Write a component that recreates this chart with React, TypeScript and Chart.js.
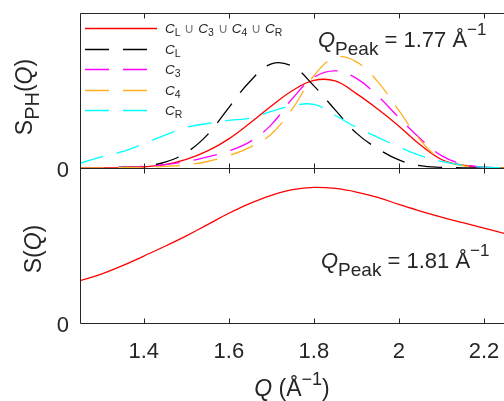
import React, { useEffect, useRef } from "react";
import { Chart, registerables } from "chart.js";

Chart.register(...registerables);

// ---------- data ----------
const Q = [1.25, 1.3, 1.35, 1.4, 1.45, 1.5, 1.55, 1.6, 1.65, 1.7, 1.75, 1.8, 1.85, 1.9, 1.95, 2.0, 2.05, 2.1, 2.15, 2.2, 2.25];
const SPH_UNION = [0, 0.001, 0.003, 0.008, 0.022, 0.055, 0.11, 0.188, 0.29, 0.4, 0.5, 0.565, 0.562, 0.48, 0.38, 0.27, 0.15, 0.055, 0.018, 0.004, 0];
const SPH_CL = [0, 0.002, 0.005, 0.012, 0.038, 0.1, 0.215, 0.39, 0.56, 0.672, 0.655, 0.53, 0.375, 0.225, 0.125, 0.052, 0.015, 0.004, 0.001, 0, 0];
const SPH_C3 = [0, 0.001, 0.004, 0.01, 0.022, 0.042, 0.072, 0.11, 0.17, 0.28, 0.45, 0.585, 0.627, 0.578, 0.465, 0.325, 0.19, 0.08, 0.025, 0.005, 0];
const SPH_C4 = [0, 0.001, 0.002, 0.005, 0.01, 0.02, 0.042, 0.08, 0.135, 0.22, 0.385, 0.595, 0.712, 0.685, 0.557, 0.37, 0.18, 0.055, 0.015, 0.003, 0];
const SPH_CR = [0.03, 0.072, 0.105, 0.157, 0.212, 0.262, 0.287, 0.307, 0.322, 0.365, 0.402, 0.41, 0.34, 0.262, 0.198, 0.135, 0.08, 0.042, 0.018, 0.006, 0.001];
const SQ = [0.273, 0.316, 0.37, 0.432, 0.495, 0.562, 0.635, 0.708, 0.772, 0.824, 0.86, 0.875, 0.868, 0.845, 0.81, 0.765, 0.722, 0.683, 0.647, 0.612, 0.576];

const X_TICKS = [1.4, 1.6, 1.8, 2, 2.2];
const X_TICK_LABELS = ["1.4", "1.6", "1.8", "2", "2.2"];
const X_MIN = 1.25;
const X_MAX = 2.247;
const PEAK_TOP = "1.77";
const PEAK_BOTTOM = "1.81";

// ---------- helpers ----------
const FONT = '"Liberation Sans", Arial, Helvetica, sans-serif';
const TXT = "#262626";

type Run = { t: string; size: number; italic?: boolean; dy?: number; color?: string };

function setFont(ctx: CanvasRenderingContext2D, r: Run) {
  ctx.font = `${r.italic ? "italic " : ""}${r.size}px ${FONT}`;
}
function richWidth(ctx: CanvasRenderingContext2D, runs: Run[]) {
  let w = 0;
  for (const r of runs) {
    setFont(ctx, r);
    w += ctx.measureText(r.t).width;
  }
  return w;
}
function drawRich(ctx: CanvasRenderingContext2D, runs: Run[], x: number, y: number, align: "left" | "center" | "right") {
  const w = richWidth(ctx, runs);
  let cx = align === "left" ? x : align === "center" ? x - w / 2 : x - w;
  ctx.textAlign = "left";
  ctx.textBaseline = "alphabetic";
  for (const r of runs) {
    setFont(ctx, r);
    ctx.fillStyle = r.color || TXT;
    ctx.fillText(r.t, cx, y + (r.dy || 0));
    cx += ctx.measureText(r.t).width;
  }
}

const C = (sub: string): Run[] => [
  { t: "C", size: 13.5, italic: true },
  { t: sub, size: 10.5, dy: 3 },
];
const CUP: Run = { t: " \u222A ", size: 14, color: "#777" };

const LEGEND = [
  { color: "#ff0000", dash: [] as number[], runs: [...C("L"), CUP, ...C("3"), CUP, ...C("4"), CUP, ...C("R")] },
  { color: "#000000", dash: [24, 14], runs: C("L") },
  { color: "#ff00ff", dash: [24, 14], runs: C("3") },
  { color: "#ffb020", dash: [24, 14], runs: C("4") },
  { color: "#00ffff", dash: [24, 14], runs: C("R") },
];

const peakRuns = (v: string): Run[] => [
  { t: "Q", size: 22, italic: true },
  { t: "Peak", size: 19, dy: 8 },
  { t: " = " + v + " \u00C5", size: 22 },
  { t: "\u22121", size: 17, dy: -12 },
];

const decorPlugin = {
  id: "decor",
  afterDatasetsDraw(chart: any) {
    const ctx: CanvasRenderingContext2D = chart.ctx;
    const x = chart.scales.x;
    const yTop = chart.scales.yTop;
    const yBot = chart.scales.yBot;
    const left = chart.chartArea.left;
    const right = chart.chartArea.right;
    const top = Math.round(yTop.getPixelForValue(1)) + 0.5;
    const mid = Math.round(yTop.getPixelForValue(0)) + 0.5;
    const bot = Math.round(yBot.getPixelForValue(0)) + 0.5;
    const l = Math.round(left) + 0.5;
    ctx.save();
    ctx.strokeStyle = TXT;
    ctx.lineWidth = 1;
    ctx.setLineDash([]);
    ctx.beginPath();
    ctx.moveTo(l, top); ctx.lineTo(right + 2, top);
    ctx.moveTo(l, mid); ctx.lineTo(right + 2, mid);
    ctx.moveTo(l, bot); ctx.lineTo(right + 2, bot);
    ctx.moveTo(l, top); ctx.lineTo(l, bot);
    const tl = 5;
    for (const t of X_TICKS) {
      const px = Math.round(x.getPixelForValue(t)) + 0.5;
      ctx.moveTo(px, top); ctx.lineTo(px, top + tl);
      ctx.moveTo(px, mid - tl); ctx.lineTo(px, mid + tl);
      ctx.moveTo(px, bot); ctx.lineTo(px, bot - tl);
    }
    ctx.stroke();

    // tick labels
    X_TICKS.forEach((t, i) => {
      drawRich(ctx, [{ t: X_TICK_LABELS[i], size: 22 }], x.getPixelForValue(t), 358, "center");
    });
    drawRich(ctx, [{ t: "0", size: 22 }], 69, mid + 8, "right");
    drawRich(ctx, [{ t: "0", size: 22 }], 69, bot + 8, "right");

    // axis title
    drawRich(ctx, [
      { t: "Q", size: 23, italic: true },
      { t: " (\u00C5", size: 23 },
      { t: "\u22121", size: 18, dy: -11 },
      { t: ")", size: 23 },
    ], (left + right) / 2, 396, "center");

    // y titles
    ctx.save();
    ctx.translate(32, 97);
    ctx.rotate(-Math.PI / 2);
    drawRich(ctx, [
      { t: "S", size: 23 },
      { t: "PH", size: 20, dy: 7 },
      { t: "(", size: 23 },
      { t: "Q", size: 23, italic: true },
      { t: ")", size: 23 },
    ], 0, 0, "center");
    ctx.restore();
    ctx.save();
    ctx.translate(41, (mid + bot) / 2 + 3);
    ctx.rotate(-Math.PI / 2);
    drawRich(ctx, [
      { t: "S(", size: 23 },
      { t: "Q", size: 23, italic: true },
      { t: ")", size: 23 },
    ], 0, 0, "center");
    ctx.restore();

    // annotations
    drawRich(ctx, peakRuns(PEAK_TOP), 318, 47, "left");
    drawRich(ctx, peakRuns(PEAK_BOTTOM), 321, 268, "left");

    // legend
    const rowY = [28, 48.5, 69, 89.5, 110];
    LEGEND.forEach((e, i) => {
      const y = Math.round(rowY[i]) + 0.5;
      ctx.strokeStyle = e.color;
      ctx.lineWidth = 1.3;
      ctx.setLineDash(e.dash);
      ctx.beginPath();
      ctx.moveTo(85, y);
      ctx.lineTo(157, y);
      ctx.stroke();
      ctx.setLineDash([]);
      drawRich(ctx, e.runs, 165, y + 4, "left");
    });
    ctx.restore();
  },
};

function pts(vals: number[]) {
  return Q.map((q, i) => ({ x: q, y: vals[i] }));
}

export default function App() {
  const ref = useRef<HTMLCanvasElement | null>(null);
  useEffect(() => {
    if (!ref.current) return;
    const common = { fill: false, pointRadius: 0, borderWidth: 1.3, tension: 0.4 };
    const chart = new Chart(ref.current, {
      type: "line",
      data: {
        datasets: [
          { ...common, label: "CR", data: pts(SPH_CR), borderColor: "#00ffff", borderDash: [24, 14], yAxisID: "yTop", order: 1 },
          { ...common, label: "C4", data: pts(SPH_C4), borderColor: "#ffb020", borderDash: [24, 14], yAxisID: "yTop", order: 2 },
          { ...common, label: "C3", data: pts(SPH_C3), borderColor: "#ff00ff", borderDash: [24, 14], yAxisID: "yTop", order: 3 },
          { ...common, label: "CL", data: pts(SPH_CL), borderColor: "#000000", borderDash: [24, 14], yAxisID: "yTop", order: 4 },
          { ...common, label: "union", data: pts(SPH_UNION), borderColor: "#ff0000", yAxisID: "yTop", order: 5 },
          { ...common, label: "S", data: pts(SQ), borderColor: "#ff0000", yAxisID: "yBot", order: 6 },
        ],
      },
      options: {
        animation: false,
        responsive: true,
        maintainAspectRatio: false,
        layout: { padding: { left: 80, top: 13, right: 0, bottom: 78 } },
        plugins: { legend: { display: false }, tooltip: { enabled: false } },
        scales: {
          x: { type: "linear", min: X_MIN, max: X_MAX, display: false },
          yTop: { type: "linear", min: -1, max: 1, display: false },
          yBot: { type: "linear", min: 0, max: 2, display: false },
        },
      },
      plugins: [decorPlugin],
    });
    return () => chart.destroy();
  }, []);
  return (
    <div style={{ position: "fixed", left: 0, top: 0, width: 504, height: 401, background: "#fff" }}>
      <canvas ref={ref} />
    </div>
  );
}
